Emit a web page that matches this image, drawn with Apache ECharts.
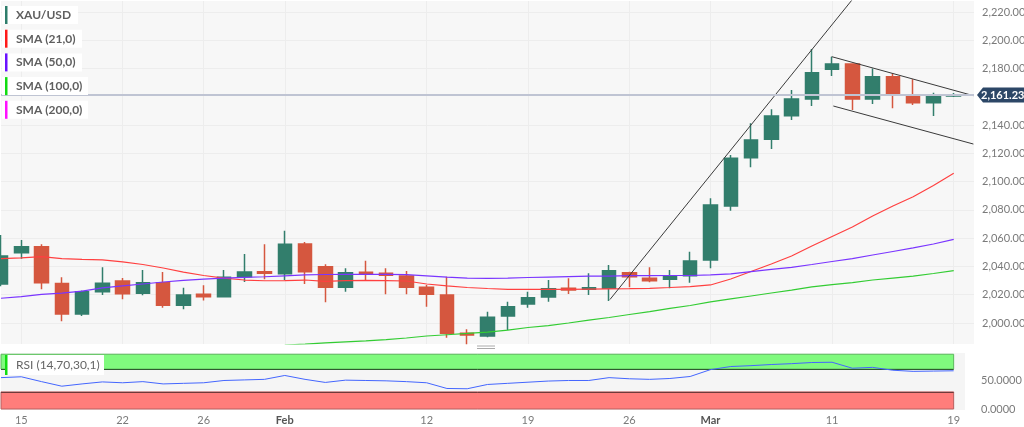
<!DOCTYPE html>
<html><head><meta charset="utf-8">
<script src="https://cdn.jsdelivr.net/npm/echarts@6/dist/echarts.min.js"></script>
<style>html,body{margin:0;padding:0;background:#fff}#c{width:1024px;height:427px}</style>
</head><body><div id="c"></div>
<script>
// ---- data ----
const dates = ['2024-01-12','2024-01-15','2024-01-16','2024-01-17','2024-01-18','2024-01-19','2024-01-22','2024-01-23','2024-01-24','2024-01-25','2024-01-26','2024-01-29','2024-01-30','2024-01-31','2024-02-01','2024-02-02','2024-02-05','2024-02-06','2024-02-07','2024-02-08','2024-02-09','2024-02-12','2024-02-13','2024-02-14','2024-02-15','2024-02-16','2024-02-19','2024-02-20','2024-02-21','2024-02-22','2024-02-23','2024-02-26','2024-02-27','2024-02-28','2024-02-29','2024-03-01','2024-03-04','2024-03-05','2024-03-06','2024-03-07','2024-03-08','2024-03-11','2024-03-12','2024-03-13','2024-03-14','2024-03-15','2024-03-18','2024-03-19'];
const openP  = [2027.6,2049.7,2054.0,2028.0,2006.4,2022.1,2029.7,2021.0,2028.5,2012.5,2020.3,2018.6,2032.8,2036.3,2034.9,2055.9,2039.8,2025.3,2035.9,2035.2,2033.2,2025.3,2019.8,1992.7,1990.8,2005.0,2013.4,2018.4,2024.5,2023.8,2024.5,2035.6,2031.6,2030.9,2033.5,2044.6,2082.8,2116.9,2130.0,2146.6,2158.5,2179.5,2183.2,2158.5,2174.2,2161.3,2155.8,2160.6];
const closeP = [2047.4,2054.0,2028.5,2006.4,2022.1,2028.1,2020.7,2028.5,2012.5,2019.8,2018.6,2032.3,2036.0,2035.2,2055.7,2036.3,2025.3,2035.6,2034.7,2033.7,2025.3,2020.3,1992.7,1991.5,2004.0,2011.5,2017.9,2024.3,2023.3,2025.0,2037.0,2032.8,2029.9,2033.2,2043.9,2083.5,2116.5,2129.5,2146.4,2158.5,2177.1,2183.2,2158.5,2174.2,2161.3,2155.8,2160.6,2161.2];
const lowP   = [2026.0,2045.5,2023.8,2001.2,2005.0,2019.8,2016.8,2019.6,2010.8,2009.7,2016.0,2018.0,2029.0,2030.9,2030.4,2027.6,2014.6,2022.1,2030.4,2020.3,2020.3,2011.5,1989.6,1984.9,1989.9,1995.0,2010.8,2015.0,2020.5,2019.8,2015.6,2025.3,2028.8,2024.5,2028.5,2038.7,2079.4,2110.1,2123.1,2143.6,2153.5,2174.7,2150.7,2154.9,2151.9,2154.2,2146.4,2159.9];
const highP  = [2062.3,2058.7,2055.7,2032.3,2023.0,2039.4,2031.8,2037.5,2036.0,2025.0,2026.7,2037.5,2048.8,2055.7,2065.3,2057.3,2041.5,2038.7,2044.0,2038.7,2036.8,2026.9,2032.8,1995.5,2008.0,2015.0,2022.1,2030.4,2031.6,2035.2,2041.0,2036.3,2039.4,2037.5,2050.4,2088.2,2118.8,2141.3,2151.2,2164.8,2193.8,2188.4,2183.7,2180.1,2176.6,2172.4,2162.9,2162.7];
const sma21  = [2045.5,2046.0,2046.9,2045.5,2045.0,2044.6,2043.2,2041.4,2038.9,2036.0,2033.6,2031.8,2030.4,2029.9,2030.0,2030.4,2029.4,2030.0,2030.2,2030.0,2029.7,2027.6,2026.2,2025.1,2024.4,2023.8,2023.8,2023.8,2023.8,2024.0,2024.2,2024.3,2024.5,2025.1,2025.8,2026.9,2031.1,2036.4,2041.7,2047.4,2054.5,2061.2,2067.9,2075.7,2082.8,2089.3,2097.3,2105.9];
const sma50  = [2017.5,2018.7,2020.2,2021.2,2022.6,2024.8,2026.2,2027.6,2029.0,2030.1,2031.1,2031.8,2032.3,2032.7,2033.4,2034.0,2034.3,2034.4,2034.4,2034.4,2034.2,2033.4,2032.5,2031.8,2031.6,2031.8,2032.2,2032.5,2032.8,2033.1,2033.2,2033.5,2033.5,2033.6,2033.6,2034.0,2034.7,2036.4,2037.9,2039.4,2041.4,2043.5,2045.6,2048.1,2050.6,2053.1,2055.9,2059.2];
const sma100Start = 14;
const sma100 = [1984.4,1985.1,1985.9,1986.6,1987.3,1988.3,1989.4,1990.8,1991.7,1992.6,1993.6,1995.0,1996.8,1998.2,2000.0,2002.1,2003.9,2006.0,2008.1,2010.3,2012.4,2014.9,2017.0,2019.1,2021.2,2023.3,2025.5,2027.2,2028.6,2030.4,2031.8,2033.2,2035.0,2037.0];
const rsi    = [55,56.5,48,40,44,47.5,46,48,44,45,46,50,51,52,58.8,52,46.6,50.6,50,49.4,48,46,36,35.5,43,45,47,49,50,50,55,53,52,53.5,57,69,74.5,76,78,79.5,81.5,82,71.5,73,68,66,66.5,67];
const priceTicks = [2000,2020,2040,2060,2080,2100,2120,2140,2180,2200,2220];
const rsiTicks = [0,50];
const xLabelIdx  = [1,6,10,14,21,26,31,35,41,47];
const xLabelText = ['15','22','26','Feb','12','19','26','Mar','11','19'];
const lastPrice = 2161.23;
const trendUp     = [[30.04,2016.6],[41.98,2228.5]];
const wedgeTop    = [[40.98,2188.4],[47.97,2160.8]];
const wedgeBottom = [[41.06,2153.5],[47.97,2126.6]];
const legendItems = [
  {name:'XAU/USD', color:'#2e7d6b', w:76},
  {name:'SMA (21,0)', color:'#ff1a1a', w:80},
  {name:'SMA (50,0)', color:'#6a11ff', w:80},
  {name:'SMA (100,0)', color:'#11dd11', w:86},
  {name:'SMA (200,0)', color:'#ff11ff', w:86}
];

// ---- chart ----
const FONT = 'Lato, "DejaVu Sans", sans-serif';
const chart = echarts.init(document.getElementById('c'), null, {renderer:'canvas'});
const candleData = dates.map((d,i)=>[i, openP[i], closeP[i], lowP[i], highP[i]]);
const toXY = arr => arr.map((v,i)=>[i,v]);
const UP='#327e6c', DOWN='#d5573f';

const option = {
  animation:false,
  backgroundColor:'#ffffff',
  grid:[
    {left:1, right:50, top:1, height:343, show:true, backgroundColor:'#f7f7f7', borderWidth:0, containLabel:false, outerBoundsMode:'none'},
    {left:1, right:59, top:353, height:57, show:true, backgroundColor:'#f5f5f5', borderWidth:0, containLabel:false, outerBoundsMode:'none'}
  ],
  xAxis:[
    {type:'value', gridIndex:0, min:0, max:48,
      axisLine:{show:false}, axisTick:{show:false, customValues:xLabelIdx},
      axisLabel:{show:false, customValues:xLabelIdx},
      splitLine:{show:true, lineStyle:{color:'#ededed', width:1}}},
    {type:'value', gridIndex:1, min:0, max:47.56,
      axisLine:{show:false}, axisTick:{show:false, customValues:xLabelIdx},
      splitLine:{show:false},
      axisLabel:{show:true, customValues:xLabelIdx, margin:5, color:'#7a7a7a', fontSize:11, fontFamily:FONT,
        formatter:function(v){const k=xLabelIdx.indexOf(Math.round(v)); if(k<0) return ''; const t=xLabelText[k]; return (t==='Feb'||t==='Mar')?'{b|'+t+'}':t;},
        rich:{b:{fontWeight:'bold', color:'#555', fontSize:11, fontFamily:FONT}}}}
  ],
  yAxis:[
    {type:'value', gridIndex:0, position:'right', min:1985.145, max:2227.78,
      axisLine:{show:false}, axisTick:{show:false, customValues:priceTicks},
      splitLine:{show:true, lineStyle:{color:'#ededed', width:1}},
      axisLabel:{customValues:priceTicks, margin:8, color:'#7a7a7a', fontSize:11, fontFamily:FONT,
        formatter:v=>v.toLocaleString('en-US',{minimumFractionDigits:4, maximumFractionDigits:4})}},
    {type:'value', gridIndex:1, position:'right', min:-1.75, max:98.2,
      axisLine:{show:false}, axisTick:{show:false, customValues:rsiTicks},
      splitLine:{show:false},
      axisLabel:{customValues:rsiTicks, margin:16, color:'#7a7a7a', fontSize:11, fontFamily:FONT,
        formatter:v=>v.toFixed(4)}}
  ],
  series:[
    {type:'candlestick', xAxisIndex:0, yAxisIndex:0, barWidth:14, data:candleData,
      itemStyle:{color:UP, color0:DOWN, borderColor:UP, borderColor0:DOWN, borderWidth:1.5},
      markLine:{silent:true, symbol:['none','none'], label:{show:false},
        lineStyle:{color:'#bfc4d3', width:2, type:'solid'}, data:[{yAxis:lastPrice}]}},
    {type:'line', name:'SMA (21,0)', xAxisIndex:0, yAxisIndex:0, data:toXY(sma21), showSymbol:false, symbol:'none',
      lineStyle:{color:'#ff4040', width:1.2}},
    {type:'line', name:'SMA (50,0)', xAxisIndex:0, yAxisIndex:0, data:toXY(sma50), showSymbol:false, symbol:'none',
      lineStyle:{color:'#7a35ff', width:1.2}},
    {type:'line', name:'SMA (100,0)', xAxisIndex:0, yAxisIndex:0, data:sma100.map((v,i)=>[i+sma100Start,v]), showSymbol:false, symbol:'none',
      lineStyle:{color:'#33cc33', width:1.2}},
    {type:'line', xAxisIndex:0, yAxisIndex:0, data:trendUp, symbol:'none', silent:true, lineStyle:{color:'#3a3a3a', width:1}},
    {type:'line', xAxisIndex:0, yAxisIndex:0, data:wedgeTop, symbol:'none', silent:true, lineStyle:{color:'#3a3a3a', width:1}},
    {type:'line', xAxisIndex:0, yAxisIndex:0, data:wedgeBottom, symbol:'none', silent:true, lineStyle:{color:'#3a3a3a', width:1}},
    {type:'line', name:'RSI', xAxisIndex:1, yAxisIndex:1, data:toXY(rsi), showSymbol:false, symbol:'none',
      lineStyle:{color:'#4466ff', width:1}, z:5,
      markArea:{silent:true, data:[
        [{xAxis:0, yAxis:70, itemStyle:{color:'#80fa7e', borderColor:'#5cb85c', borderWidth:1}},{xAxis:47, yAxis:96}],
        [{xAxis:0, yAxis:0, itemStyle:{color:'#ff7d7b', borderColor:'#b86060', borderWidth:1}},{xAxis:47, yAxis:30}]
      ]},
      markLine:{silent:true, symbol:['none','none'], label:{show:false}, data:[
        [{coord:[0,70], lineStyle:{color:'#2f5a2f', width:1, type:'solid'}},{coord:[47,70]}],
        [{coord:[0,30], lineStyle:{color:'#6e3a3a', width:1, type:'solid'}},{coord:[47,30]}]
      ]}}
  ]
};
chart.setOption(option);

// overlays: legend boxes, price tag, pane handle
const g = [];
legendItems.forEach((it,k)=>{
  const top = 6 + k*23.7;
  g.push({type:'rect', shape:{x:2, y:top, width:it.w, height:18}, style:{fill:'#ffffff'}, z:100});
  g.push({type:'rect', shape:{x:5, y:top, width:2.5, height:18}, style:{fill:it.color}, z:101});
  g.push({type:'text', x:16, y:top+9, style:{text:it.name, fill:'#5f5f5f', font:'bold 12px '+FONT, verticalAlign:'middle'}, z:101});
});
g.push({type:'rect', shape:{x:5, y:355, width:99, height:20}, style:{fill:'#ffffff'}, z:100});
g.push({type:'rect', shape:{x:5, y:355, width:2.5, height:20}, style:{fill:'#11dd11'}, z:101});
g.push({type:'text', x:16, y:365, style:{text:'RSI (14,70,30,1)', fill:'#666666', font:'12px '+FONT, verticalAlign:'middle'}, z:101});
const py = chart.convertToPixel({yAxisIndex:0}, lastPrice);
g.push({type:'polygon', shape:{points:[[977,py],[983,py-7.5],[1024,py-7.5],[1024,py+7.5],[983,py+7.5]]}, style:{fill:'#2c4767'}, z:100});
g.push({type:'text', x:981, y:py, style:{text:lastPrice.toLocaleString('en-US',{minimumFractionDigits:2}), fill:'#ffffff', font:'bold 11px '+FONT, verticalAlign:'middle'}, z:101});
g.push({type:'line', shape:{x1:477, y1:346, x2:495, y2:346}, style:{stroke:'#aaaaaa', lineWidth:1}, z:100});
g.push({type:'line', shape:{x1:477, y1:348.5, x2:495, y2:348.5}, style:{stroke:'#aaaaaa', lineWidth:1}, z:100});
chart.setOption({graphic:g});
</script>
</body></html>
